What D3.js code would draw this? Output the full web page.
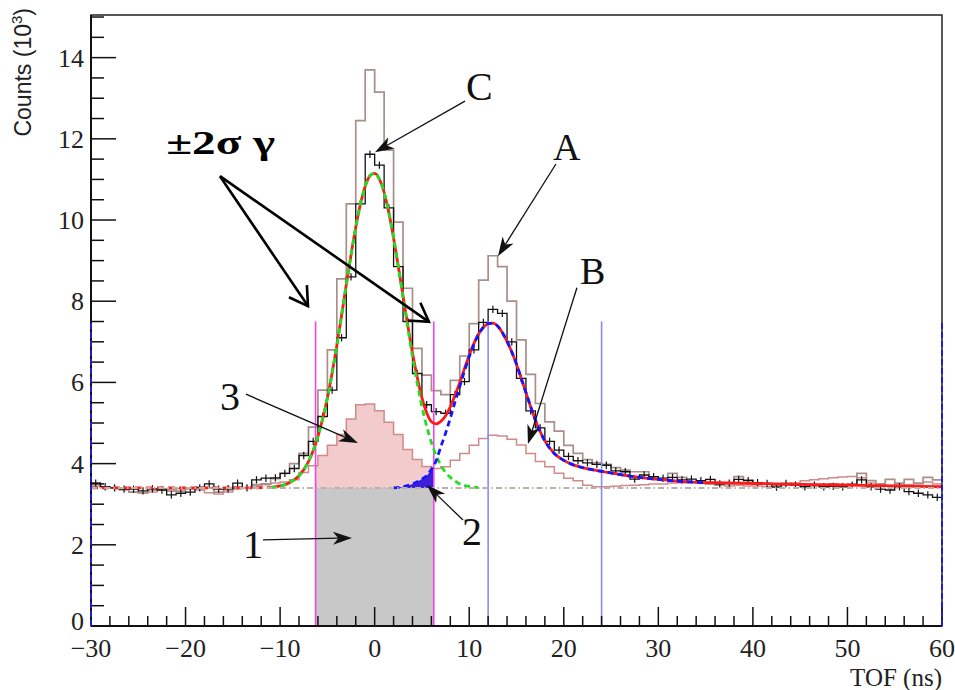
<!DOCTYPE html>
<html>
<head>
<meta charset="utf-8">
<script src="https://cdn.jsdelivr.net/npm/d3@7"></script>
<style>
  body { margin: 0; background: #fff; }
  svg { display: block; }
</style>
</head>
<body>
<svg id="chart" width="955" height="690"></svg>
<script>
// ---- TOF spectrum, 1 ns bins from -30 to 60 ns, counts in units of 10^3 ----
const tofBins = d3.range(-30, 60);          // low edge of each bin
const binWidth = 1;

// all events (black, with error bars)
const dataCounts = [
  3.52, 3.43, 3.40, 3.37, 3.37, 3.33, 3.38, 3.35, 3.23, 3.27,
  3.30, 3.40, 3.50, 3.37, 3.38, 3.52, 3.40, 3.60, 3.64, 3.65,
  3.76, 3.88, 4.20, 4.55, 5.16, 5.81, 7.10, 8.60, 10.40, 11.62,
  11.35, 10.30, 8.85, 7.50, 6.22, 5.45, 5.28, 5.24, 5.70, 6.02,
  6.80, 7.48, 7.80, 7.70, 7.00, 6.10, 5.30, 4.88, 4.55, 4.33,
  4.18, 4.07, 4.02, 3.98, 3.96, 3.82, 3.80, 3.62, 3.72, 3.68,
  3.64, 3.66, 3.60, 3.62, 3.58, 3.61, 3.50, 3.52, 3.61, 3.58,
  3.53, 3.51, 3.42, 3.51, 3.47, 3.43, 3.47, 3.43, 3.44, 3.43,
  3.47, 3.60, 3.43, 3.37, 3.35, 3.43, 3.31, 3.27, 3.23, 3.17
];
const dataError = 0.09;

// second spectrum (brown outline)
const allCounts = [
  3.52, 3.42, 3.40, 3.38, 3.30, 3.28, 3.35, 3.38, 3.35, 3.32,
  3.38, 3.42, 3.40, 3.30, 3.35, 3.42, 3.40, 3.48, 3.50, 3.63,
  3.76, 4.00, 4.25, 4.90, 5.81, 6.80, 8.55, 10.40, 12.45, 13.70,
  13.15, 11.72, 9.95, 8.32, 6.84, 6.18, 5.80, 5.70, 6.05, 6.65,
  7.45, 8.52, 9.12, 8.85, 8.00, 7.05, 6.20, 5.48, 5.03, 4.80,
  4.45, 4.25, 4.10, 4.02, 3.98, 3.90, 3.84, 3.80, 3.80, 3.65,
  3.60, 3.76, 3.66, 3.55, 3.55, 3.50, 3.48, 3.50, 3.68, 3.60,
  3.52, 3.50, 3.45, 3.47, 3.50, 3.48, 3.45, 3.44, 3.50, 3.48,
  3.50, 3.76, 3.58, 3.50, 3.61, 3.50, 3.61, 3.52, 3.66, 3.60
];

// third spectrum (light red outline, filled inside the gamma window)
const subCounts = [
  3.45, 3.42, 3.40, 3.35, 3.30, 3.28, 3.30, 3.35, 3.32, 3.38,
  3.40, 3.35, 3.28, 3.25, 3.30, 3.38, 3.40, 3.45, 3.48, 3.52,
  3.55, 3.60, 3.78, 3.95, 4.20, 4.45, 4.72, 5.10, 5.45, 5.47,
  5.30, 5.02, 4.72, 4.35, 4.10, 3.93, 3.88, 3.92, 4.08, 4.25,
  4.45, 4.62, 4.70, 4.68, 4.60, 4.46, 4.25, 4.05, 3.92, 3.76,
  3.64, 3.58, 3.47, 3.43, 3.43, 3.44, 3.46, 3.47, 3.48, 3.50,
  3.50, 3.52, 3.53, 3.55, 3.55, 3.50, 3.47, 3.45, 3.47, 3.45,
  3.45, 3.43, 3.45, 3.47, 3.52, 3.58, 3.60, 3.63, 3.65, 3.67,
  3.68, 3.65, 3.52, 3.50, 3.45, 3.52, 3.48, 3.50, 3.55, 3.50
];

// flat background level
const background = 3.4;

// total fit (red)
const totalTof = [-30, -25, -20, -15, -11, -10, -9, -8, -7, -6.5, -6, -5.5, -5, -4.5, -4, -3.5,
  -3, -2.5, -2, -1.5, -1, -0.5, 0, 0.5, 1, 1.5, 2, 2.5, 3, 3.5, 4, 4.5, 5, 5.5, 6, 6.5, 7, 7.5,
  8, 8.5, 9, 9.5, 10, 10.5, 11, 11.5, 12, 12.5, 13, 13.5, 14, 14.5, 15, 15.5, 16, 16.5, 17, 17.5,
  18, 19, 20, 21, 22, 23, 24, 26, 28, 30, 32, 34, 36, 40, 45, 50, 55, 60];
const totalFit = [3.40, 3.40, 3.40, 3.40, 3.41, 3.45, 3.53, 3.70, 4.05, 4.32, 4.67, 5.10, 5.62, 6.23, 6.91, 7.65,
  8.41, 9.14, 9.82, 10.40, 10.83, 11.09, 11.15, 11.01, 10.68, 10.18, 9.56, 8.86, 8.13, 7.41, 6.73, 6.13, 5.62, 5.25, 5.03, 4.98, 5.04, 5.18,
  5.40, 5.69, 6.00, 6.34, 6.67, 6.96, 7.20, 7.36, 7.45, 7.46, 7.39, 7.23, 7.01, 6.75, 6.45, 6.10, 5.75, 5.40, 5.07, 4.79,
  4.56, 4.25, 4.08, 3.97, 3.90, 3.85, 3.81, 3.73, 3.66, 3.61, 3.57, 3.54, 3.53, 3.51, 3.49, 3.47, 3.45, 3.43];
const dashedUpTo = -11;   // red fit is dashed below this TOF

// gamma component + background (green dashed)
const gammaTof = [-11, -10, -9, -8, -7, -6.5, -6, -5.5, -5, -4.5, -4, -3.5, -3, -2.5, -2, -1.5, -1, -0.5, 0, 0.5,
  1, 1.5, 2, 2.5, 3, 3.5, 4, 4.5, 5, 5.5, 6, 6.5, 7, 7.5, 8, 8.5, 9, 9.5, 10, 10.5, 11];
const gammaFit = [3.41, 3.45, 3.53, 3.70, 4.05, 4.32, 4.67, 5.10, 5.62, 6.23, 6.91, 7.65, 8.41, 9.14, 9.82, 10.40, 10.83, 11.09, 11.15, 11.01,
  10.68, 10.18, 9.56, 8.85, 8.10, 7.35, 6.63, 5.98, 5.40, 4.92, 4.52, 4.20, 3.96, 3.78, 3.66, 3.57, 3.50, 3.46, 3.44, 3.42, 3.41];

// neutron component + background (blue dashed)
const neutronTof = [2, 3, 4, 5, 5.5, 6, 6.5, 7, 7.5, 8, 8.5, 9, 9.5, 10, 10.5, 11, 11.5, 12, 12.5, 13, 13.5, 14,
  14.5, 15, 15.5, 16, 16.5, 17, 17.5, 18, 19, 20, 21, 22, 23, 24, 26, 28, 30, 32, 34, 35];
const neutronFit = [3.40, 3.43, 3.50, 3.62, 3.70, 3.86, 4.07, 4.42, 4.75, 5.12, 5.52, 5.90, 6.28, 6.63, 6.94, 7.19, 7.36, 7.45, 7.46, 7.39, 7.23, 7.01,
  6.75, 6.45, 6.10, 5.75, 5.40, 5.07, 4.79, 4.56, 4.25, 4.08, 3.97, 3.90, 3.85, 3.81, 3.73, 3.66, 3.61, 3.57, 3.54, 3.53];

// time windows
const gammaWindow = [-6.25, 6.25];
const neutronWindow = [12, 24];
const rangeEdges = [-30, 60];
const windowTop = 7.5;

// axes
const xTickLabels = [-30, -20, -10, 0, 10, 20, 30, 40, 50, 60];
const yTickLabels = [0, 2, 4, 6, 8, 10, 12, 14];
const xTitle = "TOF (ns)";
const yTitle = "Counts (10";

// callout labels with arrows, in data coordinates
const callouts = [
  { text: "C", lx: 9.65, ly: 12.96, ax: 9.55, ay: 12.93, tx: 0.03, ty: 11.67, size: 40 },
  { text: "A", lx: 18.86, ly: 11.48, ax: 19.17, ay: 11.38, tx: 13.04, ty: 9.11, size: 38 },
  { text: "B", lx: 21.71, ly: 8.42, ax: 21.39, ay: 8.33, tx: 16.21, ty: 4.48, size: 38 },
  { text: "3", lx: -16.36, ly: 5.32, ax: -13.61, ay: 5.71, tx: -1.77, ty: 4.51, size: 40 },
  { text: "1", lx: -13.93, ly: 1.67, ax: -11.81, ay: 2.12, tx: -2.40, ty: 2.17, size: 40 },
  { text: "2", lx: 9.23, ly: 2.00, ax: 9.34, ay: 2.61, tx: 5.53, ty: 3.47, size: 40 }
];
const windowNote = { text: "\u00B12\u03C3 \u03B3", lx: -22.05, ly: 11.62, ax: -16.36, ay: 11.08,
  tips: [[-7.05, 7.88], [5.74, 7.49]] };

// ---- drawing ----
const svg = d3.select("#chart");
const x = d3.scaleLinear().domain([-30, 60]).range([91, 942]);
const y = d3.scaleLinear().domain([0, 15.05]).range([626, 15]);

const serif = "'Liberation Serif', 'Times New Roman', serif";
const sans = "'Liberation Sans', Arial, Helvetica, sans-serif";

const steps = vals => tofBins.map((lo, i) => [lo, vals[i]]).concat([[tofBins[tofBins.length - 1] + binWidth, vals[vals.length - 1]]]);
const stepLine = d3.line().x(d => x(d[0])).y(d => y(d[1])).curve(d3.curveStepAfter);
const smooth = d3.line().x(d => x(d[0])).y(d => y(d[1])).curve(d3.curveMonotoneX);

const defs = svg.append("defs");
defs.append("clipPath").attr("id", "gammaClip")
  .append("rect")
  .attr("x", x(gammaWindow[0])).attr("y", 0)
  .attr("width", x(gammaWindow[1]) - x(gammaWindow[0])).attr("height", 690);

// region 1: background under the gamma window
svg.append("rect")
  .attr("x", x(gammaWindow[0])).attr("y", y(background))
  .attr("width", x(gammaWindow[1]) - x(gammaWindow[0]))
  .attr("height", y(0) - y(background))
  .attr("fill", "#c8c8c8");

// region 3: third spectrum above background inside the window
svg.append("path")
  .datum(steps(subCounts))
  .attr("clip-path", "url(#gammaClip)")
  .attr("fill", "#f2cccc")
  .attr("d", d3.area().x(d => x(d[0])).y0(y(background)).y1(d => y(d[1])).curve(d3.curveStepAfter));

// region 2: neutron tail inside the window
svg.append("path")
  .datum(neutronTof.map((t, i) => [t, neutronFit[i]]))
  .attr("clip-path", "url(#gammaClip)")
  .attr("fill", "#3d1fd8")
  .attr("d", d3.area().x(d => x(d[0])).y0(y(background)).y1(d => y(d[1])).curve(d3.curveMonotoneX));

// histograms
svg.append("path").datum(steps(subCounts))
  .attr("fill", "none").attr("stroke", "#d08a8a").attr("stroke-width", 1.5).attr("d", stepLine);
svg.append("path").datum(steps(allCounts))
  .attr("fill", "none").attr("stroke", "#a88f88").attr("stroke-width", 1.7).attr("d", stepLine);
svg.append("path").datum(steps(dataCounts))
  .attr("fill", "none").attr("stroke", "#111").attr("stroke-width", 1.3).attr("d", stepLine);
svg.append("g").selectAll("line").data(tofBins).join("line")
  .attr("x1", (d) => x(d + binWidth / 2)).attr("x2", (d) => x(d + binWidth / 2))
  .attr("y1", (d, i) => y(dataCounts[i] - dataError)).attr("y2", (d, i) => y(dataCounts[i] + dataError))
  .attr("stroke", "#111").attr("stroke-width", 1.2);

// time-window markers
[gammaWindow, neutronWindow].forEach((w, k) => {
  svg.append("g").selectAll("line").data(w).join("line")
    .attr("x1", d => x(d)).attr("x2", d => x(d))
    .attr("y1", y(0)).attr("y2", y(windowTop))
    .attr("stroke", k === 0 ? "#ee44ee" : "#8a8cf0").attr("stroke-width", 1.6);
});

// fits
const totalPts = totalTof.map((t, i) => [t, totalFit[i]]);
svg.append("path").datum(totalPts.filter(d => d[0] <= dashedUpTo))
  .attr("fill", "none").attr("stroke", "#ff1a1a").attr("stroke-width", 2.8)
  .attr("stroke-dasharray", "7,4").attr("d", smooth);
svg.append("path").datum(totalPts.filter(d => d[0] >= dashedUpTo))
  .attr("fill", "none").attr("stroke", "#ff1a1a").attr("stroke-width", 2.8).attr("d", smooth);
svg.append("path").datum(gammaTof.map((t, i) => [t, gammaFit[i]]))
  .attr("fill", "none").attr("stroke", "#1fe01f").attr("stroke-width", 2.8)
  .attr("stroke-dasharray", "6,4").attr("d", smooth);
svg.append("path").datum(neutronTof.map((t, i) => [t, neutronFit[i]]))
  .attr("fill", "none").attr("stroke", "#1616ff").attr("stroke-width", 2.8)
  .attr("stroke-dasharray", "6,4").attr("d", smooth);

// background level
svg.append("line")
  .attr("x1", x(-30)).attr("x2", x(60)).attr("y1", y(background)).attr("y2", y(background))
  .attr("stroke", "#b9b1aa").attr("stroke-width", 2).attr("stroke-dasharray", "6,3,1.5,3");

// frame and axes
svg.append("rect")
  .attr("x", x(-30)).attr("y", y(15.05)).attr("width", x(60) - x(-30)).attr("height", y(0) - y(15.05))
  .attr("fill", "none").attr("stroke", "#222").attr("stroke-width", 1.5);
svg.append("line").attr("x1", x(-30)).attr("x2", x(60)).attr("y1", y(0)).attr("y2", y(0))
  .attr("stroke", "#111").attr("stroke-width", 2);
svg.append("line").attr("x1", x(-30)).attr("x2", x(-30)).attr("y1", y(0)).attr("y2", y(15.05))
  .attr("stroke", "#111").attr("stroke-width", 2);

const ticks = svg.append("g").attr("stroke", "#111").attr("stroke-width", 1.5);
ticks.selectAll(".xmin").data(d3.range(-30, 60.01, 2)).join("line")
  .attr("x1", d => x(d)).attr("x2", d => x(d))
  .attr("y1", y(0)).attr("y2", d => y(0) - (d % 10 === 0 ? 19 : 10));
ticks.selectAll(".ymin").data(d3.range(0, 15.01, 0.5)).join("line")
  .attr("y1", d => y(d)).attr("y2", d => y(d))
  .attr("x1", x(-30)).attr("x2", d => x(-30) + (d % 2 === 0 ? 25 : 13));

svg.append("g").selectAll("text").data(xTickLabels).join("text")
  .attr("x", d => x(d)).attr("y", 657)
  .attr("text-anchor", "middle")
  .style("font-family", serif).style("font-size", "26px").attr("fill", "#222")
  .text(d => d < 0 ? "\u2212" + Math.abs(d) : d);
svg.append("g").selectAll("text").data(yTickLabels).join("text")
  .attr("x", 84).attr("y", d => y(d) + (d === 0 ? 4 : 9))
  .attr("text-anchor", "end")
  .style("font-family", serif).style("font-size", "26px").attr("fill", "#222")
  .text(d => d);

svg.append("text")
  .attr("x", 942).attr("y", 686).attr("text-anchor", "end")
  .style("font-family", serif).style("font-size", "25px").attr("fill", "#222")
  .text(xTitle);
const yt = svg.append("text")
  .attr("transform", "translate(31,8) rotate(-90)")
  .attr("text-anchor", "end")
  .style("font-family", sans).style("font-size", "23px").attr("fill", "#222");
yt.append("tspan").text(yTitle);
yt.append("tspan").attr("dy", -9).style("font-size", "15px").text("3");
yt.append("tspan").attr("dy", 9).text(")");

// full-range markers at the axis ends
svg.append("g").selectAll("line").data(rangeEdges).join("line")
  .attr("x1", d => x(d)).attr("x2", d => x(d))
  .attr("y1", y(0)).attr("y2", y(windowTop))
  .attr("stroke", "#1c1cd0").attr("stroke-width", 2).attr("stroke-dasharray", "6,3");

// callouts
function filledArrow(x1, y1, x2, y2) {
  const dx = x2 - x1, dy = y2 - y1, L = Math.hypot(dx, dy);
  const ux = dx / L, uy = dy / L, nx = -uy, ny = ux;
  const len = 19, half = 6.5;
  const bx = x2 - ux * len, by = y2 - uy * len;
  const mx = x2 - ux * len * 0.72, my = y2 - uy * len * 0.72;
  svg.append("line").attr("x1", x1).attr("y1", y1).attr("x2", mx).attr("y2", my)
    .attr("stroke", "#111").attr("stroke-width", 1.3);
  svg.append("path")
    .attr("d", `M${x2},${y2}L${bx + nx * half},${by + ny * half}L${mx},${my}L${bx - nx * half},${by - ny * half}Z`)
    .attr("fill", "#111");
}
callouts.forEach(c => {
  svg.append("text").attr("x", x(c.lx)).attr("y", y(c.ly))
    .style("font-family", serif).style("font-size", c.size + "px").attr("fill", "#111")
    .text(c.text);
  filledArrow(x(c.ax), y(c.ay), x(c.tx), y(c.ty));
});

svg.append("text").attr("x", x(windowNote.lx)).attr("y", y(windowNote.ly))
  .style("font-family", serif).style("font-size", "34px").style("font-weight", "bold")
  .attr("textLength", 109).attr("lengthAdjust", "spacingAndGlyphs")
  .attr("fill", "#000").text(windowNote.text);
windowNote.tips.forEach(([tx, ty]) => {
  const x1 = x(windowNote.ax), y1 = y(windowNote.ay), x2 = x(tx), y2 = y(ty);
  const ang = Math.atan2(y1 - y2, x1 - x2), arm = 21, spread = Math.PI / 5.8;
  svg.append("line").attr("x1", x1).attr("y1", y1).attr("x2", x2).attr("y2", y2)
    .attr("stroke", "#000").attr("stroke-width", 2.6);
  svg.append("path")
    .attr("d", `M${x2 + arm * Math.cos(ang + spread)},${y2 + arm * Math.sin(ang + spread)}L${x2},${y2}L${x2 + arm * Math.cos(ang - spread)},${y2 + arm * Math.sin(ang - spread)}`)
    .attr("fill", "none").attr("stroke", "#000").attr("stroke-width", 2.6).attr("stroke-linejoin", "miter");
});
</script>
</body>
</html>
